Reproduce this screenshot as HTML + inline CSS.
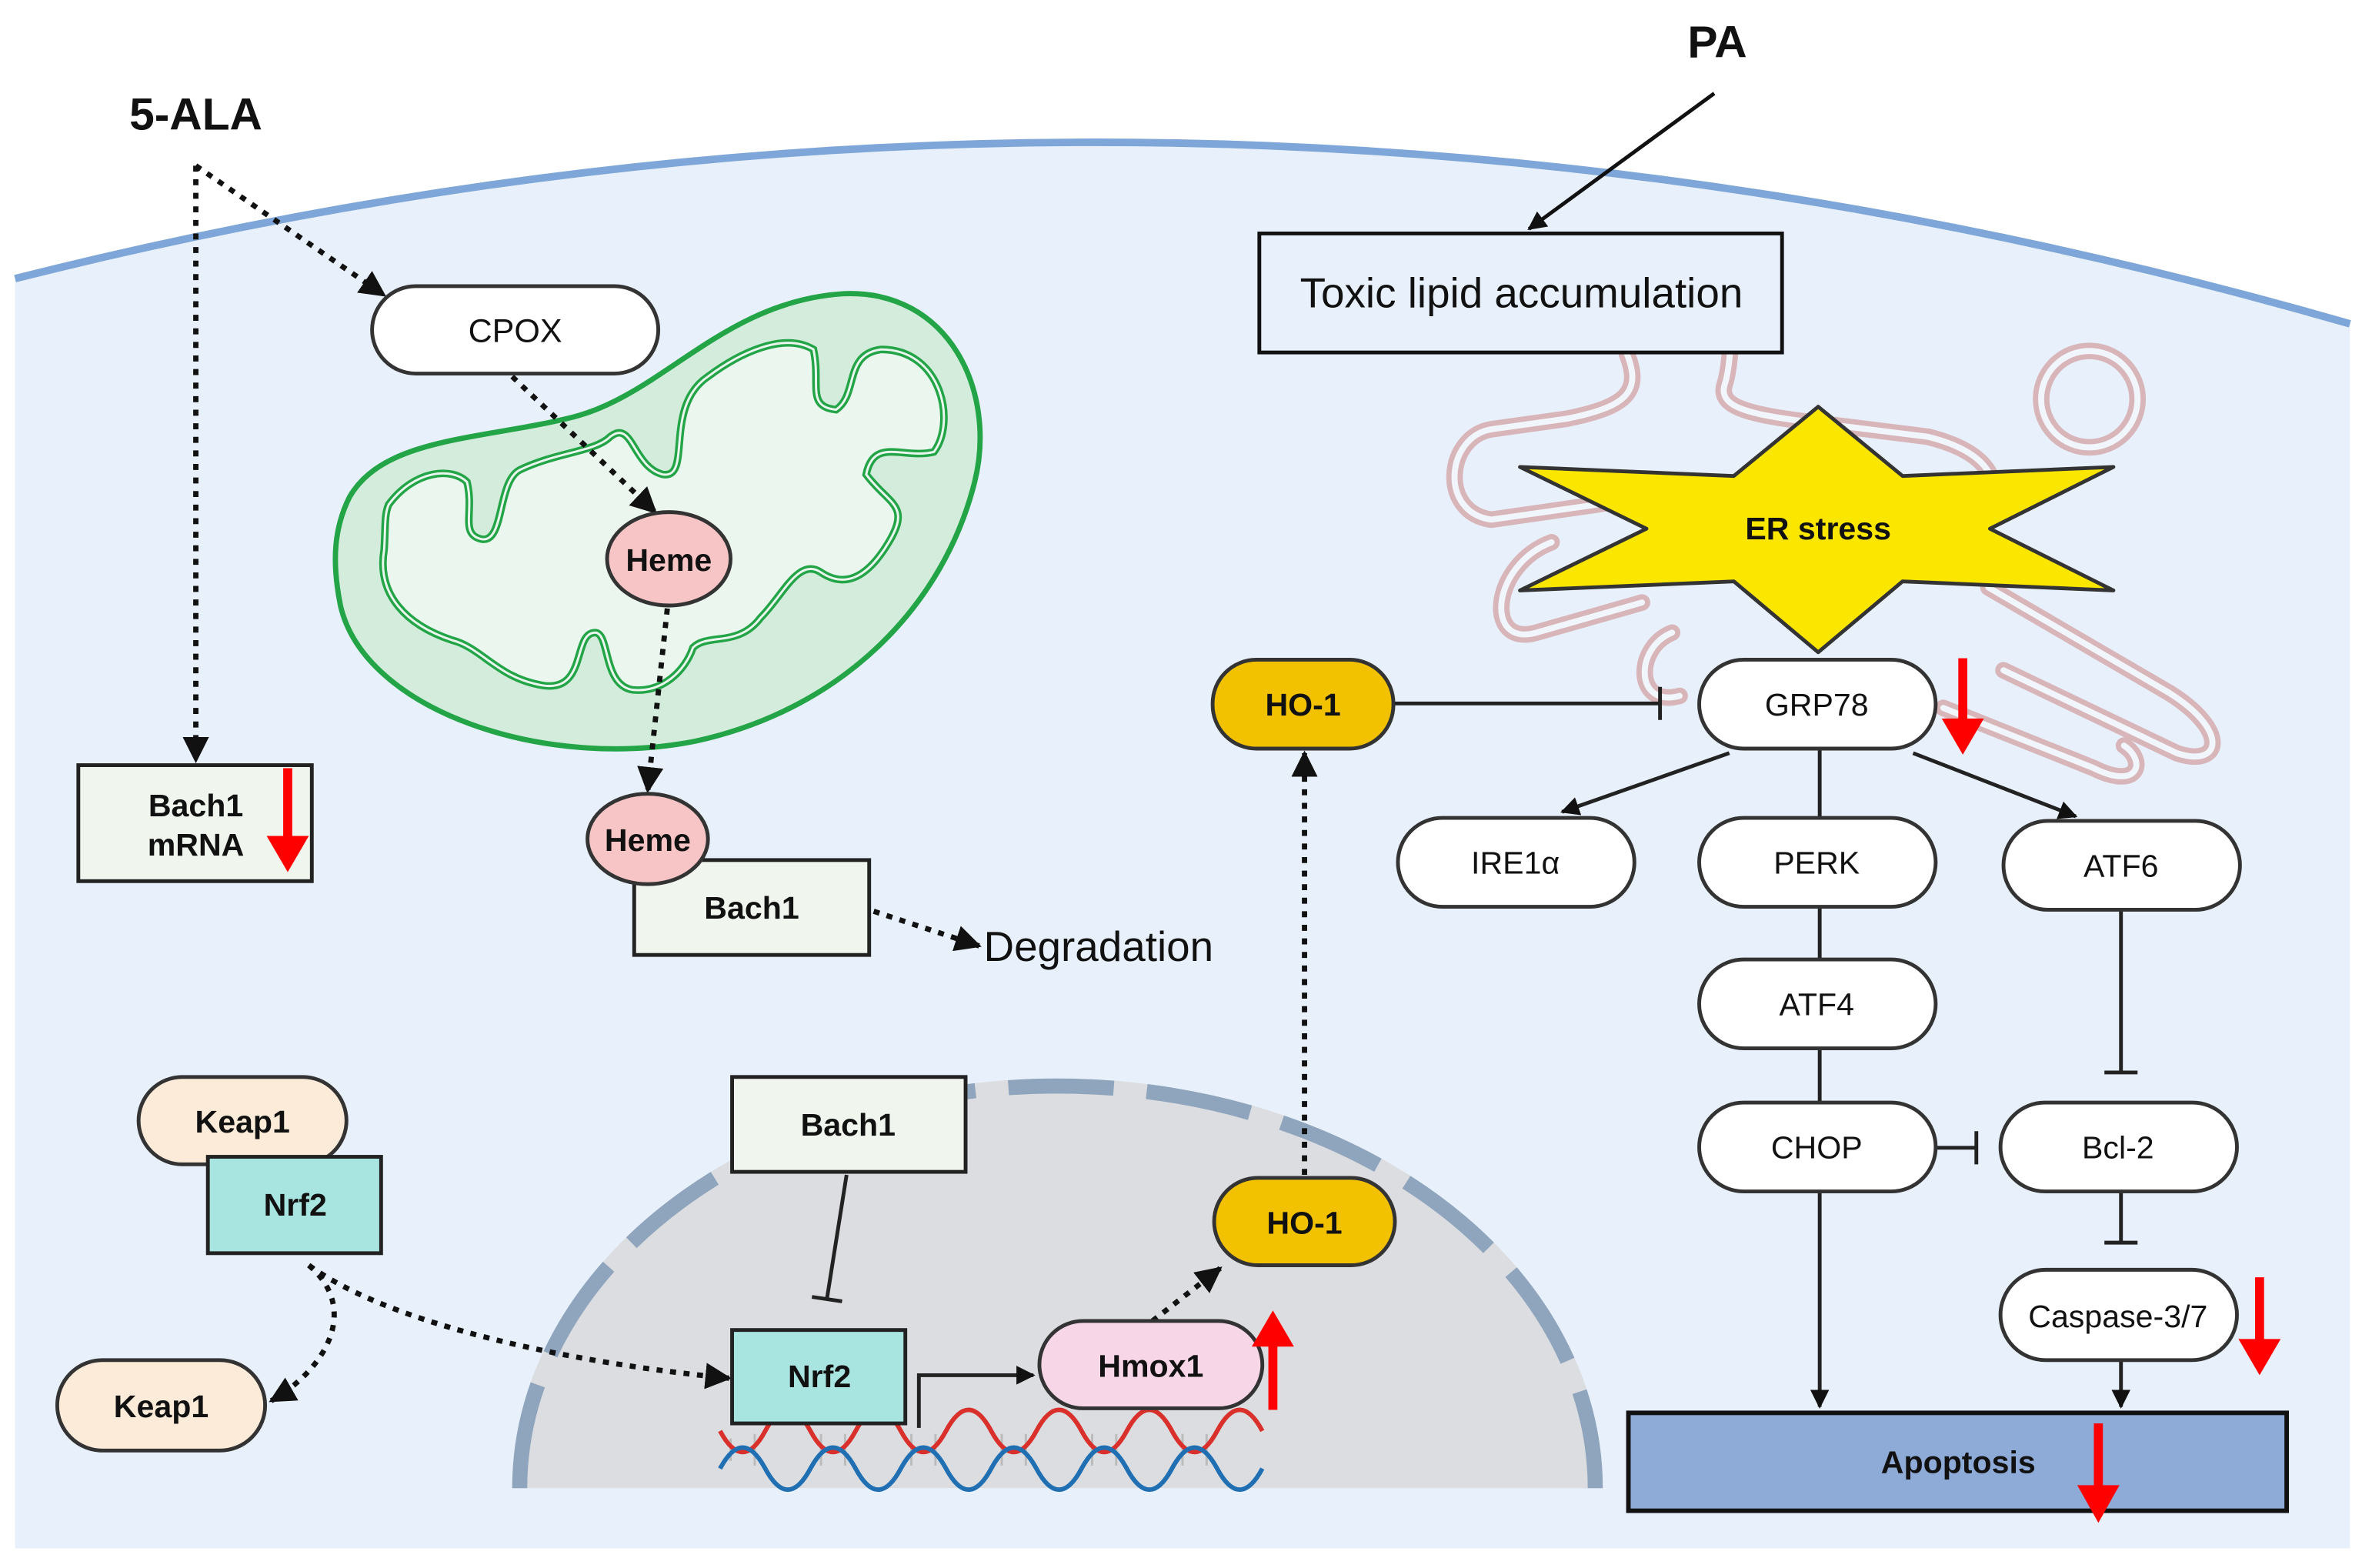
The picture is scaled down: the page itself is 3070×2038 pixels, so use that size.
<!DOCTYPE html>
<html><head><meta charset="utf-8"><style>html,body{margin:0;padding:0;background:#fff}svg{display:block}text{font-family:"Liberation Sans",sans-serif}</style></head><body>
<svg width="3070" height="2038" viewBox="0 0 1568 1041" preserveAspectRatio="none" xmlns="http://www.w3.org/2000/svg">
<defs>
<marker id="ah" viewBox="0 0 10 10" refX="9" refY="5" markerWidth="5" markerHeight="5" orient="auto"><path d="M0,0 L10,5 L0,10 Z" fill="#111"/></marker>
</defs>
<!-- cell -->
<path d="M10,185 Q780,-10 1560,215 L1560,1028 L10,1028 Z" fill="#e8f1fb"/>
<path d="M10,185 Q780,-10 1560,215" fill="none" stroke="#7ea6d8" stroke-width="5"/>
<text x="130" y="86" font-size="30" font-weight="bold" text-anchor="middle" fill="#111">5-ALA</text>
<text x="1140" y="38" font-size="30" font-weight="bold" text-anchor="middle" fill="#111">PA</text>
<line x1="1138" y1="62" x2="1015" y2="152" stroke="#111" stroke-width="2.5" marker-end="url(#ah)"/>
<!-- ER -->
<g fill="none" stroke-linecap="round" stroke-linejoin="round">
<g stroke="#d8b5b9" stroke-width="11">
<path d="M1150,175 C1150,200 1150,240 1145,255 C1140,270 1160,275 1200,280 L1280,290 C1320,300 1330,320 1320,340"/>
<path d="M1080,235 C1090,260 1080,270 1040,278 L990,285 C960,290 955,340 990,345 L1060,335 C1090,330 1100,330 1110,330"/>
<path d="M1030,360 C990,375 985,430 1020,420 L1090,400"/>
<path d="M1320,390 L1440,460 C1480,485 1475,510 1445,500 L1330,445"/>
<path d="M1110,420 C1085,430 1085,470 1115,462"/>
<path d="M1290,470 L1390,510 C1420,525 1425,505 1410,495"/>
<circle cx="1387" cy="265" r="32"/>
</g>
<g stroke="#f1f6fc" stroke-width="4">
<path d="M1150,175 C1150,200 1150,240 1145,255 C1140,270 1160,275 1200,280 L1280,290 C1320,300 1330,320 1320,340"/>
<path d="M1080,235 C1090,260 1080,270 1040,278 L990,285 C960,290 955,340 990,345 L1060,335 C1090,330 1100,330 1110,330"/>
<path d="M1030,360 C990,375 985,430 1020,420 L1090,400"/>
<path d="M1320,390 L1440,460 C1480,485 1475,510 1445,500 L1330,445"/>
<path d="M1110,420 C1085,430 1085,470 1115,462"/>
<path d="M1290,470 L1390,510 C1420,525 1425,505 1410,495"/>
<circle cx="1387" cy="265" r="32"/>
</g></g>
<rect x="836" y="155" width="347" height="79" fill="#e8f1fb" stroke="#111" stroke-width="2.5"/>
<text x="1010" y="204" font-size="28" text-anchor="middle" fill="#111">Toxic lipid accumulation</text>
<polygon points="1009,310 1151,316 1207,270 1263,316 1403,310 1321,351 1403,392 1263,386 1207,433 1151,386 1009,392 1093,351" fill="#fbe600" stroke="#333" stroke-width="2.5" stroke-linejoin="round"/>
<text x="1207" y="358" font-size="21" font-weight="bold" text-anchor="middle" fill="#111">ER stress</text>
<!-- mitochondria -->
<path d="M232,330 C255,290 320,292 380,277 C440,262 480,200 560,195 C630,192 662,260 647,320 C627,400 562,470 462,492 C362,512 242,472 226,402 C220,372 222,350 232,330 Z" fill="#d3ecdb" stroke="#22a447" stroke-width="3.5"/>
<path d="M258,335 C275,312 300,310 310,320 C315,340 305,355 320,358 C335,360 330,320 345,312 C370,300 395,300 405,290 C420,278 420,310 440,315 C460,318 440,270 470,250 C490,235 520,220 540,232 C545,255 535,270 555,272 C570,262 560,235 585,232 C625,232 635,280 620,300 C600,305 580,290 575,315 C590,335 605,335 590,360 C575,385 560,390 545,380 C530,370 520,395 505,410 C490,430 470,420 460,430 C455,445 440,460 420,458 C400,455 405,420 395,420 C380,420 390,460 360,455 C330,450 320,430 300,425 C270,415 250,395 255,365 C256,350 255,342 258,335 Z" fill="#eaf6ee" stroke="#22a447" stroke-width="5"/>
<path d="M258,335 C275,312 300,310 310,320 C315,340 305,355 320,358 C335,360 330,320 345,312 C370,300 395,300 405,290 C420,278 420,310 440,315 C460,318 440,270 470,250 C490,235 520,220 540,232 C545,255 535,270 555,272 C570,262 560,235 585,232 C625,232 635,280 620,300 C600,305 580,290 575,315 C590,335 605,335 590,360 C575,385 560,390 545,380 C530,370 520,395 505,410 C490,430 470,420 460,430 C455,445 440,460 420,458 C400,455 405,420 395,420 C380,420 390,460 360,455 C330,450 320,430 300,425 C270,415 250,395 255,365 C256,350 255,342 258,335 Z" fill="none" stroke="#eaf6ee" stroke-width="1.5"/>
<!-- nucleus -->
<path d="M340,988 A362,272 0 0 1 1064,988 Z" fill="#dcdde0"/>
<path d="M345,988 A357,267 0 0 1 1059,988" fill="none" stroke="#8fa5bd" stroke-width="10" stroke-dasharray="70 22"/>
<!-- dotted arrows -->
<g fill="none" stroke="#111" stroke-width="3.5" stroke-dasharray="4 5" marker-end="url(#ah)">
<path d="M130,110 L130,505"/>
<path d="M130,110 L255,196"/>
<path d="M340,250 L435,340"/>
<path d="M443,404 L430,525"/>
<path d="M580,605 L650,628"/>
<path d="M205,840 C240,870 215,910 180,930"/>
<path d="M205,840 C260,880 380,905 484,915"/>
<path d="M765,877 L810,842"/>
<path d="M866,780 L866,500"/>
</g>
<!-- CPOX etc -->
<rect x="247" y="190" width="190" height="58" rx="29" fill="#fff" stroke="#333" stroke-width="2.5"/>
<text x="342" y="227" font-size="22" text-anchor="middle" fill="#111">CPOX</text>
<ellipse cx="444" cy="371" rx="41" ry="31" fill="#f7c5c5" stroke="#333" stroke-width="2.5"/>
<text x="444" y="379" font-size="21" font-weight="bold" text-anchor="middle" fill="#111">Heme</text>
<rect x="421" y="571" width="156" height="63" fill="#f0f5ee" stroke="#222" stroke-width="2.5"/>
<text x="499" y="610" font-size="21" font-weight="bold" text-anchor="middle" fill="#111">Bach1</text>
<ellipse cx="430" cy="557" rx="40" ry="30" fill="#f7c5c5" stroke="#333" stroke-width="2.5"/>
<text x="430" y="565" font-size="21" font-weight="bold" text-anchor="middle" fill="#111">Heme</text>
<text x="653" y="638" font-size="28" fill="#111">Degradation</text>
<rect x="52" y="508" width="155" height="77" fill="#f0f5ee" stroke="#222" stroke-width="2.5"/>
<text x="130" y="542" font-size="21" font-weight="bold" text-anchor="middle" fill="#111">Bach1</text>
<text x="130" y="568" font-size="21" font-weight="bold" text-anchor="middle" fill="#111">mRNA</text>
<!-- Keap/Nrf2 -->
<rect x="92" y="715" width="138" height="58" rx="29" fill="#fdebd9" stroke="#333" stroke-width="2.5"/>
<text x="161" y="752" font-size="21" font-weight="bold" text-anchor="middle" fill="#111">Keap1</text>
<rect x="138" y="768" width="115" height="64" fill="#a8e4e0" stroke="#222" stroke-width="2.5"/>
<text x="196" y="807" font-size="21" font-weight="bold" text-anchor="middle" fill="#111">Nrf2</text>
<rect x="38" y="903" width="138" height="60" rx="30" fill="#fdebd9" stroke="#333" stroke-width="2.5"/>
<text x="107" y="941" font-size="21" font-weight="bold" text-anchor="middle" fill="#111">Keap1</text>
<rect x="486" y="715" width="155" height="63" fill="#f0f5ee" stroke="#222" stroke-width="2.5"/>
<text x="563" y="754" font-size="21" font-weight="bold" text-anchor="middle" fill="#111">Bach1</text>
<line x1="562" y1="780" x2="549" y2="862" stroke="#222" stroke-width="2.5"/>
<line x1="539" y1="861" x2="559" y2="864" stroke="#222" stroke-width="2.5"/>
<!-- DNA -->
<g stroke="#bbb" stroke-width="1.5">
<line x1="485" y1="955" x2="485" y2="970"/><line x1="501" y1="952" x2="501" y2="973"/><line x1="545" y1="952" x2="545" y2="973"/><line x1="561" y1="952" x2="561" y2="973"/><line x1="605" y1="952" x2="605" y2="973"/><line x1="621" y1="952" x2="621" y2="973"/><line x1="665" y1="952" x2="665" y2="973"/><line x1="681" y1="952" x2="681" y2="973"/><line x1="725" y1="952" x2="725" y2="973"/><line x1="741" y1="952" x2="741" y2="973"/><line x1="785" y1="952" x2="785" y2="973"/><line x1="801" y1="952" x2="801" y2="973"/>
</g>
<g fill="none" stroke-width="3">
<path d="M478,950 q15,28 30,0 t30,0 t30,0 t30,0 t30,0 t30,0 t30,0 t30,0 t30,0 t30,0 t30,0 t30,0" stroke="#d9302c"/>
<path d="M478,975 q15,-28 30,0 t30,0 t30,0 t30,0 t30,0 t30,0 t30,0 t30,0 t30,0 t30,0 t30,0 t30,0" stroke="#1f6fb2"/>
</g>
<rect x="486" y="883" width="115" height="62" fill="#a8e4e0" stroke="#222" stroke-width="2.5"/>
<text x="544" y="921" font-size="21" font-weight="bold" text-anchor="middle" fill="#111">Nrf2</text>
<path d="M610,948 L610,913 L686,913" fill="none" stroke="#222" stroke-width="2.5" marker-end="url(#ah)"/>
<rect x="690" y="877" width="148" height="58" rx="29" fill="#f7d6e8" stroke="#333" stroke-width="2.5"/>
<text x="764" y="914" font-size="21" font-weight="bold" text-anchor="middle" fill="#111">Hmox1</text>
<!-- HO-1 -->
<rect x="806" y="782" width="120" height="58" rx="29" fill="#f2c200" stroke="#333" stroke-width="2.5"/>
<text x="866" y="819" font-size="21" font-weight="bold" text-anchor="middle" fill="#111">HO-1</text>
<rect x="805" y="438" width="120" height="59" rx="29" fill="#f2c200" stroke="#333" stroke-width="2.5"/>
<text x="865" y="475" font-size="21" font-weight="bold" text-anchor="middle" fill="#111">HO-1</text>
<line x1="926" y1="467" x2="1102" y2="467" stroke="#222" stroke-width="2.5"/>
<line x1="1102" y1="456" x2="1102" y2="478" stroke="#222" stroke-width="2.5"/>
<!-- UPR -->
<g stroke="#222" stroke-width="2.5" fill="none">
<line x1="1148" y1="500" x2="1037" y2="539" marker-end="url(#ah)"/>
<line x1="1270" y1="500" x2="1378" y2="542" marker-end="url(#ah)"/>
<line x1="1208" y1="497" x2="1208" y2="543"/>
<line x1="1208" y1="602" x2="1208" y2="637"/>
<line x1="1208" y1="696" x2="1208" y2="732"/>
<line x1="1408" y1="604" x2="1408" y2="712"/><line x1="1397" y1="712" x2="1419" y2="712"/>
<line x1="1285" y1="762" x2="1312" y2="762"/><line x1="1312" y1="751" x2="1312" y2="773"/>
<line x1="1408" y1="791" x2="1408" y2="825"/><line x1="1397" y1="825" x2="1419" y2="825"/>
<line x1="1208" y1="791" x2="1208" y2="934" marker-end="url(#ah)"/>
<line x1="1408" y1="903" x2="1408" y2="934" marker-end="url(#ah)"/>
</g>
<g fill="#fff" stroke="#333" stroke-width="2.5">
<rect x="1128" y="438" width="157" height="59" rx="29.5"/>
<rect x="928" y="543" width="157" height="59" rx="29.5"/>
<rect x="1128" y="543" width="157" height="59" rx="29.5"/>
<rect x="1330" y="545" width="157" height="59" rx="29.5"/>
<rect x="1128" y="637" width="157" height="59" rx="29.5"/>
<rect x="1128" y="732" width="157" height="59" rx="29.5"/>
<rect x="1328" y="732" width="157" height="59" rx="29.5"/>
<rect x="1328" y="843" width="157" height="60" rx="30"/>
</g>
<g font-size="21" text-anchor="middle" fill="#111">
<text x="1206" y="475">GRP78</text>
<text x="1006" y="580">IRE1α</text>
<text x="1206" y="580">PERK</text>
<text x="1408" y="582">ATF6</text>
<text x="1206" y="674">ATF4</text>
<text x="1206" y="769">CHOP</text>
<text x="1406" y="769">Bcl-2</text>
<text x="1406" y="881">Caspase-3/7</text>
</g>
<rect x="1081" y="938" width="437" height="65" fill="#8eaad6" stroke="#111" stroke-width="3"/>
<text x="1300" y="978" font-size="21" font-weight="bold" text-anchor="middle" fill="#111">Apoptosis</text>
<!-- red arrows -->
<g fill="red" stroke="none">
<rect x="188" y="510" width="6" height="46"/><polygon points="177,555 205,555 191,579"/>
<rect x="1300" y="437" width="6" height="41"/><polygon points="1289,477 1317,477 1303,501"/>
<rect x="1497" y="848" width="6" height="42"/><polygon points="1486,889 1514,889 1500,913"/>
<rect x="1390" y="945" width="6" height="42"/><polygon points="1379,986 1407,986 1393,1011"/>
<rect x="842" y="892" width="6" height="44"/><polygon points="831,894 859,894 845,870"/>
</g>
</svg>
</body></html>
